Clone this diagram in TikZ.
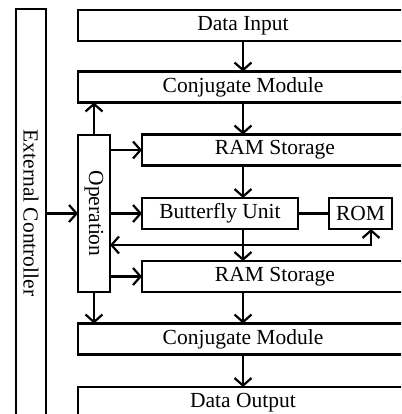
\documentclass[tikz,border=0pt]{standalone}
\usepackage{fontspec}
\setmainfont{Liberation Serif}
\usetikzlibrary{arrows.meta}
\begin{document}
\begin{tikzpicture}[x=1pt,y=-1pt,
  line width=2.2pt,
  font=\fontsize{21.5}{24}\selectfont,
  blk/.style={draw, inner sep=0pt, outer sep=0pt, align=center},
  wide/.style={blk, minimum width=330pt, minimum height=31pt},
  ram/.style={blk, minimum width=266pt, minimum height=31pt},
  arr/.style={-{Straight Barb[length=7.5pt,width=17pt]}},
  arrboth/.style={{Straight Barb[length=7.5pt,width=17pt]}-{Straight Barb[length=7.5pt,width=17pt]}}]
\useasboundingbox (0,0) rectangle (401,414);
\clip (0,0) rectangle (401,414);

% main data path
\node[wide] (din)  at (243,25.5)  {Data Input};
\node[wide] (cj1)  at (243,87)    {Conjugate Module};
\node[ram]  (ram1) at (275,150)   {RAM Storage};
\node[blk, minimum width=156pt, minimum height=31pt] (bfu) at (220,213.5) {Butterfly Unit};
\node[blk, minimum width=63pt, minimum height=31pt]  (rom) at (360.5,213.5) {ROM};
\node[ram]  (ram2) at (275,276.5) {RAM Storage};
\node[wide] (cj2)  at (243,339)   {Conjugate Module};
\node[wide] (dout) at (243,402.5) {Data Output};

% control blocks
\node[blk, minimum width=30pt, minimum height=430pt] (ext) at (31,224) {};
\node[inner sep=0pt] (extlbl) at (31,213) {\rotatebox{-90}{External Controller}};
\node[blk, minimum width=32pt, minimum height=157pt] (op) at (94,213.5)
  {\rotatebox{-90}{Operation}};

% data flow
\draw[arr] (din.south) -- (cj1.north);
\draw[arr] (cj1.south) -- (cj1.south |- ram1.north);
\draw[arr] (cj1.south |- ram1.south) -- (cj1.south |- bfu.north);
\draw[arr] (cj1.south |- bfu.south) -- (cj1.south |- ram2.north);
\draw[arr] (cj2.north |- ram2.south) -- (cj2.north);
\draw[arr] (cj2.south) -- (dout.north);
\draw (bfu.east) -- (rom.west);

% control flow
\draw[arr] (ext.east |- op) -- (op.west);
\draw[arr] (op.north) -- (op.north |- cj1.south);
\draw[arr] (op.south) -- (op.south |- cj2.north);
\draw[arr] (op.east |- ram1) -- (ram1.west);
\draw[arr] (op.east |- bfu) -- (bfu.west);
\draw[arr] (op.east |- ram2) -- (ram2.west);
\coordinate (romlink) at (371,245);
\draw[arrboth] (op.east |- romlink) -- (romlink) -- (romlink |- rom.south);
\end{tikzpicture}
\end{document}
